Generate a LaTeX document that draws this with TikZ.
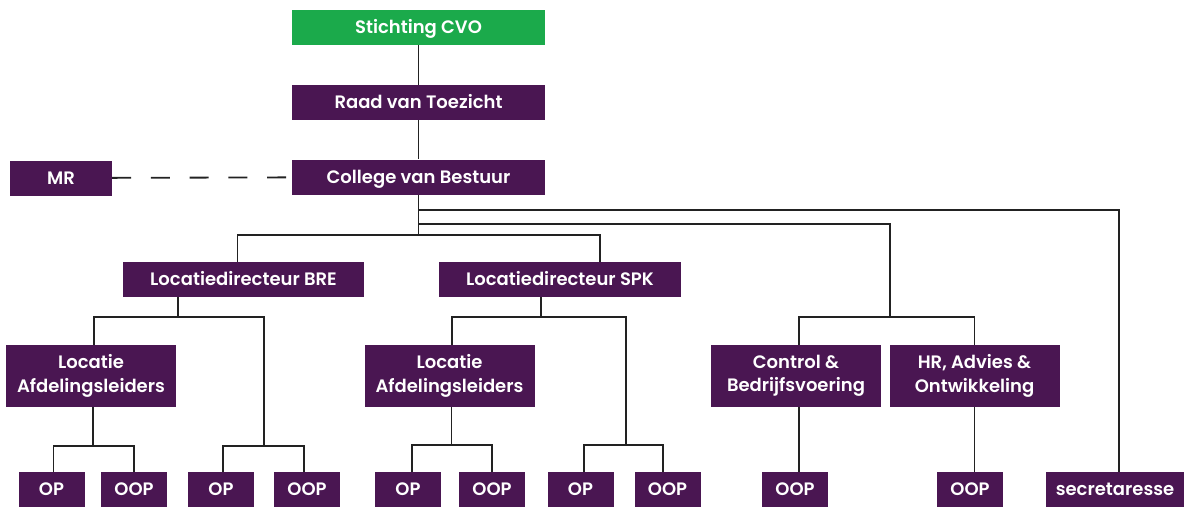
\documentclass[tikz,border=0pt]{standalone}
\usepackage{fontspec}
\setmainfont{Poppins}[UprightFont=* SemiBold]
\usetikzlibrary{positioning}
\definecolor{cvopurple}{RGB}{74,22,82}
\definecolor{cvogreen}{RGB}{27,170,75}
\definecolor{linegray}{RGB}{34,34,34}

\begin{document}
\begin{tikzpicture}[x=1pt,y=-1pt,%
  % common options for the boxes:
  box/.style = {fill=cvopurple, text=white, align=center, inner sep=0,
              font=\fontsize{18}{23.5}\selectfont, minimum height=35pt,
              text height=12.6pt, text depth=0pt},
  % boxes with two lines of text:
  tall/.style = {box, minimum width=170pt, minimum height=62pt,
              text height=, text depth=},
  % small boxes on the bottom row:
  small/.style = {box, minimum width=66pt},
  % options for the connecting lines:
  link/.style = {draw=linegray, line width=1.8pt}]

\useasboundingbox (0,0) rectangle (1185,507);

% top of the organisation
\node[box,fill=cvogreen,minimum width=253pt] (cvo) at (418.5,27.5) {Stichting CVO};
\node[box,minimum width=253pt] (rvt) at (418.5,102.5) {Raad van Toezicht};
\node[box,minimum width=253pt] (cvb) at (418.5,177) {College van Bestuur};
\node[box,minimum width=102pt] (mr) at (61,178) {MR};

% location directors
\node[box,minimum width=241pt] (bre) at (243.5,279.5) {Locatiedirecteur BRE};
\node[box,minimum width=242pt] (spk) at (560,279.5) {Locatiedirecteur SPK};

% second layer
\node[tall] (la1) at (91,376) {Locatie\\ Afdelingsleiders};
\node[tall] (la2) at (449.5,376) {Locatie\\ Afdelingsleiders};
\node[tall] (ctl) at (796,376) {Control \&\\ Bedrijfsvoering};
\node[tall] (hr) at (974.5,376) {HR, Advies \&\\ Ontwikkeling};

% bottom row
\node[small] (op1) at (51.5,489.5) {OP};
\node[small] (oop1) at (134,489.5) {OOP};
\node[small] (op2) at (221,489.5) {OP};
\node[small] (oop2) at (307,489.5) {OOP};
\node[small] (op3) at (408,489.5) {OP};
\node[small] (oop3) at (492,489.5) {OOP};
\node[small] (op4) at (580.5,489.5) {OP};
\node[small] (oop4) at (667.5,489.5) {OOP};
\node[small] (oop5) at (795,489.5) {OOP};
\node[small] (oop6) at (970,489.5) {OOP};
\node[box,minimum width=138pt] (sec) at (1115,489.5) {secretaresse};

% bus points
\coordinate (brebus) at (178,317);
\coordinate (bre2) at (264,446);
\coordinate (spkbus) at (541,317);
\coordinate (spk2) at (626,445);
\coordinate (stafbus) at (890,317);

% top chain and the council
\draw[link] (cvo) -- (rvt);
\draw[link] (rvt) -- (cvb);
\draw[link,dash pattern=on 19pt off 19.75pt] (mr) -- (cvb);

% lines leaving the board
\draw[link] (cvb.south) -- (cvb.south |- 0,235);
\draw[link] ([xshift=-6pt]bre.north) |- (cvb.south |- 0,235)
   -| ([xshift=40pt]spk.north);
\draw[link] (cvb.south |- 0,210) -| ([xshift=3.7pt]sec.north);
\draw[link] (cvb.south |- 0,224) -| (stafbus);

% staff departments
\draw[link] ([xshift=3pt]ctl.north) |- (stafbus) -| (hr.north);
\draw[link] ([xshift=3pt]ctl.south) -- ([xshift=3pt]ctl.south |- oop5.north);
\draw[link] (hr.south) -- (hr.south |- oop6.north);

% location BRE
\draw[link] (bre.south -| brebus) -- (brebus);
\draw[link] ([xshift=3pt]la1.north) |- (bre2 |- brebus) -- (bre2);
\draw[link] ([xshift=2pt]op2.north) |- (bre2) -| ([xshift=-3pt]oop2.north);
\draw[link] ([xshift=2pt]la1.south) -- ([xshift=2pt]la1.south |- 0,446);
\draw[link] ([xshift=2pt]op1.north) |- ([xshift=2pt]la1.south |- 0,446)
   -| (oop1.north);

% location SPK
\draw[link] (spk.south -| spkbus) -- (spkbus);
\draw[link] ([xshift=2.5pt]la2.north) |- (spk2 |- spkbus) -- (spk2);
\draw[link] ([xshift=3.5pt]op4.north) |- (spk2) -| ([xshift=-4.5pt]oop4.north);
\draw[link] ([xshift=2pt]la2.south) -- ([xshift=2pt]la2.south |- 0,445);
\draw[link] ([xshift=4pt]op3.north) |- ([xshift=2pt]la2.south |- 0,445)
   -| (oop3.north);
\end{tikzpicture}
\end{document}
